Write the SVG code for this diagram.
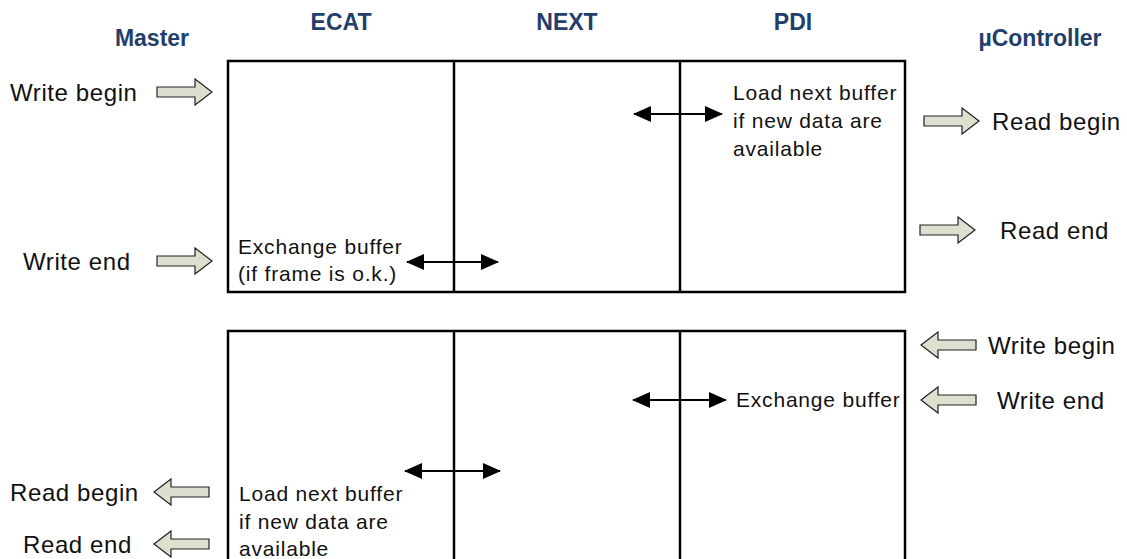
<svg xmlns="http://www.w3.org/2000/svg" width="1127" height="559" viewBox="0 0 1127 559">
<style>
.hdr{font-family:"Liberation Sans",Arial,sans-serif;font-weight:bold;font-size:23px;fill:#233E6B;text-anchor:middle}
.out{font-family:"Liberation Sans",Arial,sans-serif;font-size:24px;letter-spacing:0.6px;fill:#111}
.in{font-family:"Liberation Sans",Arial,sans-serif;font-size:21px;letter-spacing:0.8px;fill:#111}
.box{fill:none;stroke:#000;stroke-width:2.5}
.blk{fill:#DCE0CE;stroke:#222;stroke-width:1.2;stroke-linejoin:miter}
.dbl{stroke:#000;stroke-width:2;fill:none;marker-start:url(#ah);marker-end:url(#ah)}
</style>
<defs>
<marker id="ah" viewBox="0 0 18 16" refX="17" refY="8" markerWidth="18" markerHeight="16" markerUnits="userSpaceOnUse" orient="auto-start-reverse">
<path d="M0,0 L18,8 L0,16 Z" fill="#000"/>
</marker>
<path id="ra" d="M0,0 L-17,-13 V-5 H-55 V5 H-17 V13 Z"/>
</defs>
<rect width="1127" height="559" fill="#fff"/>

<g id="headers">
<text class="hdr" x="152" y="46">Master</text>
<text class="hdr" x="341" y="30">ECAT</text>
<text class="hdr" x="567" y="30">NEXT</text>
<text class="hdr" x="793" y="30">PDI</text>
<text class="hdr" x="1040" y="46">µController</text>
</g>

<g id="buffer-write">
<rect class="box" x="228" y="61" width="677" height="231"/>
<line class="box" x1="454" y1="61" x2="454" y2="292"/>
<line class="box" x1="680" y1="61" x2="680" y2="292"/>
<text class="in" x="238" y="254">Exchange buffer</text>
<text class="in" x="238" y="281">(if frame is o.k.)</text>
<text class="in" x="733" y="100">Load next buffer</text>
<text class="in" x="733" y="128">if new data are</text>
<text class="in" x="733" y="156">available</text>
</g>

<g id="buffer-read">
<path class="box" d="M228,562 V331 H905 V562"/>
<line class="box" x1="454" y1="331" x2="454" y2="562"/>
<line class="box" x1="680" y1="331" x2="680" y2="562"/>
<text class="in" x="736" y="407">Exchange buffer</text>
<text class="in" x="239" y="501">Load next buffer</text>
<text class="in" x="239" y="529">if new data are</text>
<text class="in" x="239" y="556">available</text>
</g>

<g id="master-write-begin">
<text class="out" x="10" y="101">Write begin</text>
<use href="#ra" class="blk" transform="translate(212,92)"/>
</g>
<g id="master-write-end">
<text class="out" x="23" y="270">Write end</text>
<use href="#ra" class="blk" transform="translate(212,261)"/>
</g>
<g id="uc-read-begin">
<use href="#ra" class="blk" transform="translate(979,121)"/>
<text class="out" x="992" y="130">Read begin</text>
</g>
<g id="uc-read-end">
<use href="#ra" class="blk" transform="translate(975,230)"/>
<text class="out" x="1000" y="239">Read end</text>
</g>
<g id="uc-write-begin">
<use href="#ra" class="blk" transform="translate(921,345) scale(-1,1)"/>
<text class="out" x="988" y="354">Write begin</text>
</g>
<g id="uc-write-end">
<use href="#ra" class="blk" transform="translate(921,400) scale(-1,1)"/>
<text class="out" x="997" y="409">Write end</text>
</g>
<g id="master-read-begin">
<text class="out" x="10" y="501">Read begin</text>
<use href="#ra" class="blk" transform="translate(154,492) scale(-1,1)"/>
</g>
<g id="master-read-end">
<text class="out" x="23" y="553">Read end</text>
<use href="#ra" class="blk" transform="translate(154,544) scale(-1,1)"/>
</g>

<g id="connectors">
<line class="dbl" x1="634" y1="114" x2="722" y2="114"/>
<line class="dbl" x1="407" y1="262" x2="498" y2="262"/>
<line class="dbl" x1="633" y1="400" x2="726" y2="400"/>
<line class="dbl" x1="405" y1="471" x2="500" y2="471"/>
</g>
</svg>
